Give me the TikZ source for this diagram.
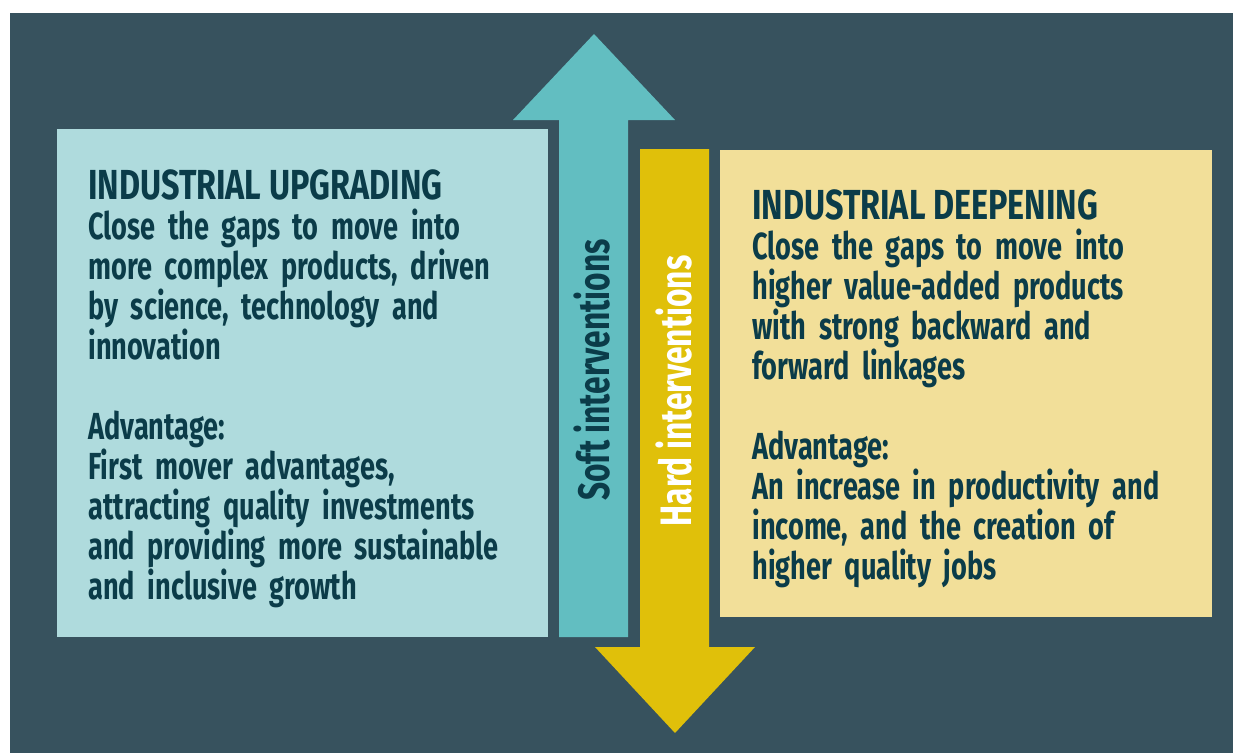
\documentclass[tikz,border=0pt]{standalone}
\usepackage{fontspec}
\setmainfont{Fira Sans}[FakeStretch=0.72]
\newfontfamily\headfont{Fira Sans}[FakeStretch=0.77]
\definecolor{slate}{HTML}{37525E}
\definecolor{paleteal}{HTML}{AFDBDD}
\definecolor{teal}{HTML}{62BEC1}
\definecolor{gold}{HTML}{E0C00A}
\definecolor{sand}{HTML}{F2DF99}
\definecolor{ink}{HTML}{0B3C49}
\tikzset{every picture/.style={line width=0.75pt}}
\tikzset{
  title/.style={anchor=base west, inner sep=0pt, text=ink,
    font=\headfont\fontsize{42bp}{44bp}\selectfont\bfseries},
  body/.style={anchor=base west, inner sep=0pt, text=ink, text width=480bp,
    align=left, font=\fontsize{37.7bp}{40bp}\selectfont\bfseries},
  side/.style={inner sep=0pt, rotate=90,
    font=\fontsize{44bp}{46bp}\selectfont\bfseries}
}
\begin{document}
\begin{tikzpicture}[x=1bp,y=-1bp]
\useasboundingbox (0,0) rectangle (1233,753);
\fill [slate] (10,13) rectangle (1233,753);
% boxes
\fill [paleteal] (57,129) rectangle (548,637);
\fill [sand] (720,150) rectangle (1212,617);
% arrows
\fill [teal] (559,637) -- (559,120) -- (513,120) -- (594,34) -- (675,120) -- (628,120) -- (628,637) -- cycle;
\fill [gold] (640,149) -- (640,647) -- (595,647) -- (675,733) -- (755,647) -- (709,647) -- (709,149) -- cycle;
% texts
\node [title] (upTitle) at (88,199) {INDUSTRIAL UPGRADING};
\node [body] (upText) at (88,239) {Close the gaps to move into\\
more complex products, driven\\
by science, technology and\\
innovation\\[40bp]
Advantage:\\
First mover advantages,\\
attracting quality investments\\
and providing more sustainable\\
and inclusive growth};
\node [title] (deTitle) at (752,219) {INDUSTRIAL DEEPENING};
\node [body] (deText) at (752,259) {Close the gaps to move into\\
higher value-added products\\
with strong backward and\\
forward linkages\\[40bp]
Advantage:\\
An increase in productivity and\\
income, and the creation of\\
higher quality jobs};
\node [side, text=ink] (soft) at (592,370) {Soft interventions};
\node [side, text=white] (hard) at (674,391) {Hard interventions};
\end{tikzpicture}
\end{document}
